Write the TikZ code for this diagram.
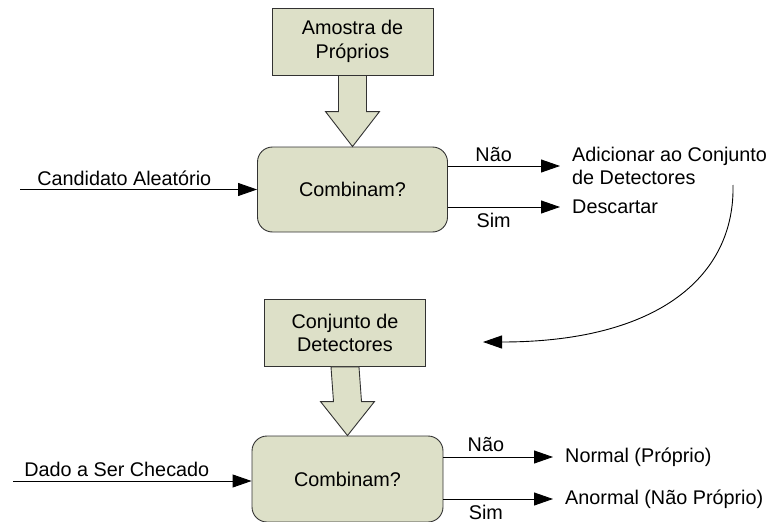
\documentclass[tikz,border=0pt]{standalone}
\usepackage{fontspec}
\setmainfont{Liberation Sans}
\usetikzlibrary{arrows.meta,calc}
\definecolor{boxfill}{RGB}{221,224,200}
\definecolor{boxline}{RGB}{50,50,50}
\begin{document}
\begin{tikzpicture}[x=1pt,y=-1pt,
  font=\fontsize{19.8}{23.5}\selectfont,
  inbox/.style={draw=boxline,fill=boxfill,line width=0.9pt,minimum width=161pt,minimum height=67pt,align=center,inner sep=0pt},
  decbox/.style={draw=boxline,fill=boxfill,line width=0.9pt,rounded corners=15pt,minimum width=190pt,minimum height=85pt,inner sep=0pt},
  blk/.style={draw=boxline,fill=boxfill,line width=0.9pt,line join=miter},
  conn/.style={line width=0.9pt,-{Triangle[length=19pt,width=13pt]}},
  txt/.style={inner sep=0pt,anchor=west,align=left},
  lbl/.style={inner sep=0pt,anchor=base}
]
\useasboundingbox (0,0) rectangle (772,522);
% top part
\node[inbox] (amostra) at (352.5,41.5) {Amostra de\\Próprios};
\node[decbox] (comb1) at (352.5,189.5) {Combinam?};
\filldraw[blk] ($(amostra.south)+(-14,0)$) -- ($(comb1.north)+(-14,-35)$) -- ($(comb1.north)+(-27,-35)$) -- (comb1.north) -- ($(comb1.north)+(27,-35)$) -- ($(comb1.north)+(14,-35)$) -- ($(amostra.south)+(14,0)$) -- cycle;
\coordinate (cand) at (20,189.5);
\draw[conn] (cand) -- node[lbl,pos=0.44,yshift=4pt] {Candidato Aleatório} (comb1.west);
\coordinate (n1s) at (447.5,166);
\coordinate (s1s) at (447.5,207);
\node[txt] (adic) at (572,166) {Adicionar ao Conjunto\\de Detectores};
\node[txt] (desc) at (572,207) {Descartar};
\draw[conn] (n1s) -- node[lbl,pos=0.41,yshift=5pt] {Não} ($(adic.west)+(-12,0)$);
\draw[conn] (s1s) -- node[lbl,pos=0.41,yshift=-20pt] {Sim} ($(desc.west)+(-12,0)$);
% curved arrow
\coordinate (cs) at (733,185);
\coordinate (ce) at (483,342);
\draw[conn] (cs) .. controls (735,275) and (660,342) .. (ce);
% bottom part
\node[inbox] (conj) at (345,333) {Conjunto de\\Detectores};
\node[decbox,minimum width=191pt,minimum height=86pt] (comb2) at (347.5,479) {Combinam?};
\filldraw[blk] ($(conj.south)+(-14,0)$) -- ($(comb2.north)+(-14,-34)$) -- ($(comb2.north)+(-27,-34)$) -- (comb2.north) -- ($(comb2.north)+(27,-34)$) -- ($(comb2.north)+(14,-34)$) -- ($(conj.south)+(14,0)$) -- cycle;
\coordinate (dado) at (13,481);
\draw[conn] (dado) -- node[lbl,pos=0.435,yshift=5pt] {Dado a Ser Checado} (dado -| comb2.west);
\coordinate (n2s) at (443,457);
\coordinate (s2s) at (443,499);
\node[txt] (norm) at (565,457) {Normal (Próprio)};
\node[txt] (anorm) at (565,499) {Anormal (Não Próprio)};
\draw[conn] (n2s) -- node[lbl,pos=0.39,yshift=6pt] {Não} ($(norm.west)+(-12,0)$);
\draw[conn] (s2s) -- node[lbl,pos=0.39,yshift=-20pt] {Sim} ($(anorm.west)+(-12,0)$);
\end{tikzpicture}
\end{document}
